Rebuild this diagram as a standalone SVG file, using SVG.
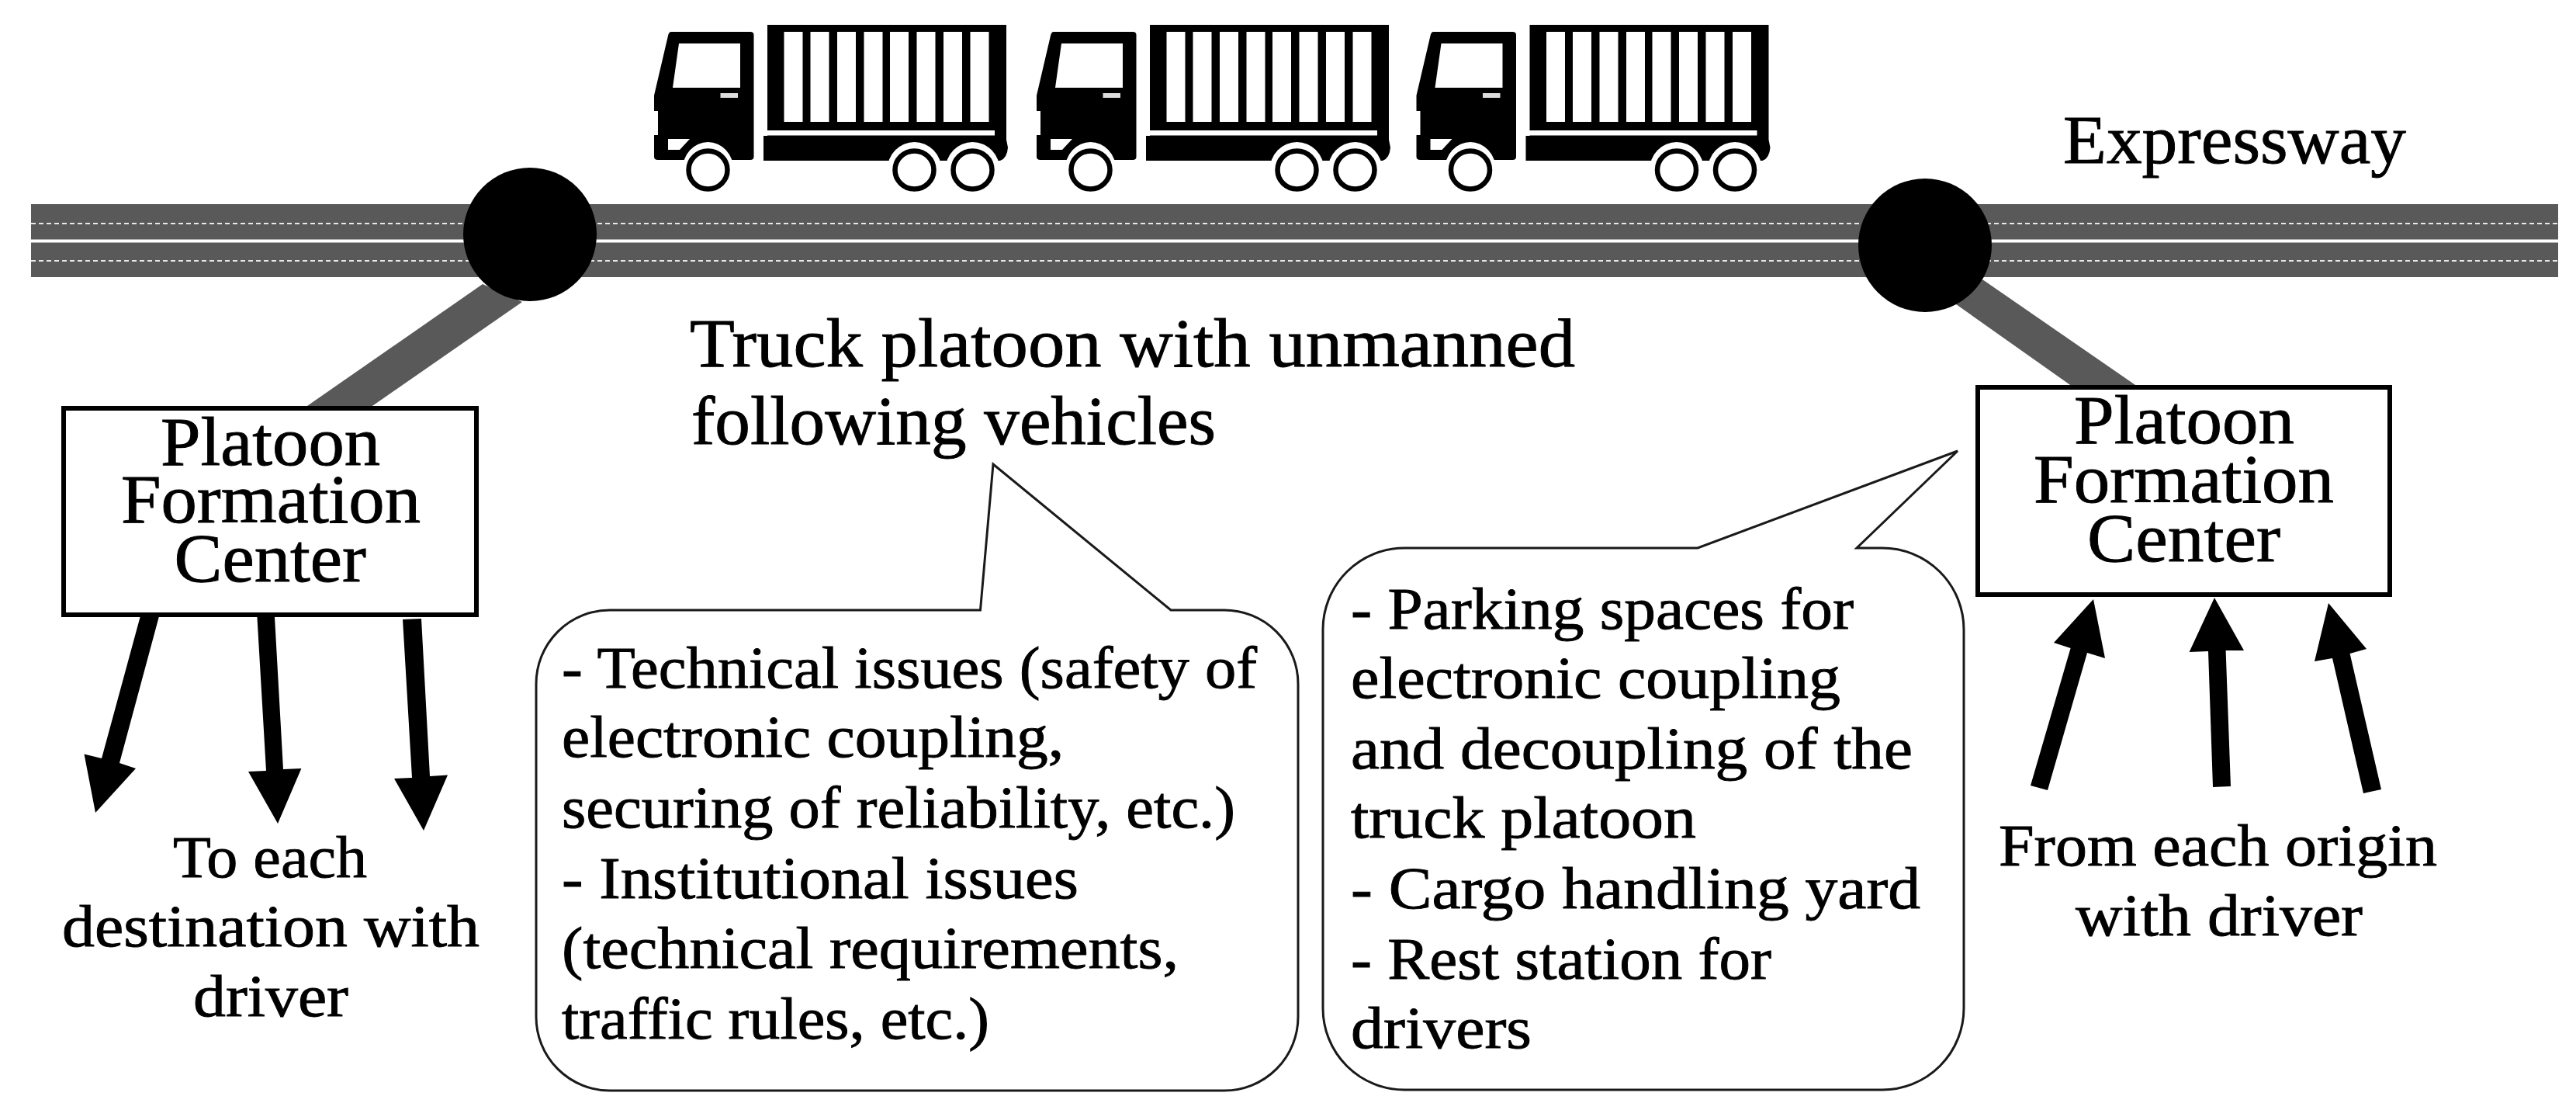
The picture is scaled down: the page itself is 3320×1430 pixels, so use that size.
<svg xmlns="http://www.w3.org/2000/svg" xmlns:xlink="http://www.w3.org/1999/xlink" width="3320" height="1430" viewBox="0 0 3320 1430">
<style>
text{font-family:"Liberation Serif","Times New Roman",serif;fill:#000;stroke:#000;stroke-width:0.9px;}
.b{font-size:76px;}
.l{font-size:88px;}
.box{fill:#fff;stroke:#000;stroke-width:6;}
.road{fill:#595959;}
.dash{stroke:#e8e8e8;stroke-width:2;stroke-dasharray:6 4;fill:none;}
.call{fill:#fff;stroke:#1a1a1a;stroke-width:3;stroke-linejoin:miter;}
.w{fill:#fff;}
.k{fill:#000;}
.ring{fill:#fff;stroke:#000;stroke-width:6.5;}
</style>
<defs>
<g id="truck">
<path class="k" d="M865,41H967Q971.5,41 971.5,45V202Q971.5,206 967,206H848Q843,206 843,202V174H848V143H843V123L861,46Q862,41 865,41Z"/>
<path class="w" d="M875,56H954V113H867Z"/>
<rect x="928.5" y="120" width="22.5" height="6" fill="#ddd"/>
<path class="w" d="M861,179H889L876,193H861Z"/>
<ellipse class="w" cx="912.5" cy="219" rx="33" ry="36"/>
<ellipse class="ring" cx="912.5" cy="219" rx="25" ry="24.5"/>
<path class="k" d="M989,32H1297V180L1299,190Q1298,204 1289,207H984V175H989Z"/>
<rect class="w" x="984" y="168" width="298" height="6.5"/>
<rect class="w" x="1010.5" y="41" width="24" height="116"/>
<rect class="w" x="1044.5" y="41" width="24" height="116"/>
<rect class="w" x="1079" y="41" width="24" height="116"/>
<rect class="w" x="1113.5" y="41" width="24" height="116"/>
<rect class="w" x="1147" y="41" width="24" height="116"/>
<rect class="w" x="1181.5" y="41" width="24" height="116"/>
<rect class="w" x="1216" y="41" width="24" height="116"/>
<rect class="w" x="1250.5" y="41" width="24" height="116"/>
<ellipse class="w" cx="1178.5" cy="219" rx="35" ry="36"/>
<ellipse class="w" cx="1253.5" cy="219" rx="35" ry="36"/>
<ellipse class="ring" cx="1178.5" cy="219" rx="25" ry="24.5"/>
<ellipse class="ring" cx="1253.5" cy="219" rx="25" ry="24.5"/>
</g>
</defs>
<rect width="3320" height="1430" fill="#fff"/>
<g id="expressway">
<rect class="road" x="40" y="263" width="3257" height="94"/>
<rect x="40" y="308.500" width="3257" height="4" fill="#fff"/>
<line class="dash" x1="40" y1="288" x2="3297" y2="288"/>
<line class="dash" x1="40" y1="336" x2="3297" y2="336"/>
<text class="l" x="2659" y="210" textLength="442" lengthAdjust="spacingAndGlyphs">Expressway</text>
</g>
<g id="connectors">
<polygon class="road" points="393,525 622,366 673,389 477,525"/>
<polygon class="road" points="2671,498 2521,392 2555,360 2755,498"/>
<polygon class="k" points="183,786 205,794 154,983 175,990 123,1047 108.500,971.500 131,977"/>
<polygon class="k" points="331,788 353.600,788 365,991 388.400,990 358,1061 320,994 343,993"/>
<polygon class="k" points="519,798 543,797 554,1000 577,998.500 546,1070 508,1003 531,1002"/>
<polygon class="k" points="2617,1012 2639,1018 2690,841 2713,848 2698,772 2647,828 2668.600,835"/>
<polygon class="k" points="2852,1014 2875,1013 2868.600,838 2892,838 2854,770 2821.600,840 2846,839"/>
<polygon class="k" points="3046,1022 3069,1017 3028.600,842 3050,836 3001,777 2983,852 3006,848"/>
</g>
<g id="junction-left"><circle class="k" cx="683" cy="302" r="86"/></g>
<g id="junction-right"><circle class="k" cx="2481" cy="316" r="86"/></g>
<g id="truck-1"><use xlink:href="#truck" href="#truck"/></g>
<g id="truck-2"><use xlink:href="#truck" href="#truck" x="493"/></g>
<g id="truck-3"><use xlink:href="#truck" href="#truck" x="982.500"/></g>
<g id="center-left">
<rect class="box" x="82" y="526" width="532" height="266"/>
<text class="l" x="207" y="599" textLength="283" lengthAdjust="spacingAndGlyphs">Platoon</text>
<text class="l" x="156" y="673" textLength="386" lengthAdjust="spacingAndGlyphs">Formation</text>
<text class="l" x="224.500" y="749" textLength="247.500" lengthAdjust="spacingAndGlyphs">Center</text>
</g>
<g id="center-right">
<rect class="box" x="2549" y="499" width="531" height="267"/>
<text class="l" x="2673" y="570.500" textLength="284" lengthAdjust="spacingAndGlyphs">Platoon</text>
<text class="l" x="2621" y="647" textLength="387" lengthAdjust="spacingAndGlyphs">Formation</text>
<text class="l" x="2690" y="723" textLength="249" lengthAdjust="spacingAndGlyphs">Center</text>
</g>
<g id="label-platoon">
<text class="l" x="889" y="472" textLength="1141" lengthAdjust="spacingAndGlyphs">Truck platoon with unmanned</text>
<text class="l" x="891" y="572" textLength="676" lengthAdjust="spacingAndGlyphs">following vehicles</text>
</g>
<g id="label-destination">
<text class="b" x="223" y="1130" textLength="250" lengthAdjust="spacingAndGlyphs">To each</text>
<text class="b" x="80" y="1219" textLength="538" lengthAdjust="spacingAndGlyphs">destination with</text>
<text class="b" x="249" y="1309" textLength="200" lengthAdjust="spacingAndGlyphs">driver</text>
</g>
<g id="label-origin">
<text class="b" x="2576" y="1115" textLength="565" lengthAdjust="spacingAndGlyphs">From each origin</text>
<text class="b" x="2675" y="1205" textLength="370" lengthAdjust="spacingAndGlyphs">with driver</text>
</g>
<g id="callout-issues">
<path class="call" d="M786,786H1263.500L1280,598L1509,786H1578A95,95 0 0 1 1673,881V1310A95,95 0 0 1 1578,1405H786A95,95 0 0 1 691,1310V881A95,95 0 0 1 786,786Z"/>
<text class="b" x="724" y="886" textLength="896" lengthAdjust="spacingAndGlyphs">- Technical issues (safety of</text>
<text class="b" x="724" y="975" textLength="647" lengthAdjust="spacingAndGlyphs">electronic coupling,</text>
<text class="b" x="724" y="1066" textLength="868" lengthAdjust="spacingAndGlyphs">securing of reliability, etc.)</text>
<text class="b" x="724" y="1157" textLength="666" lengthAdjust="spacingAndGlyphs">- Institutional issues</text>
<text class="b" x="724" y="1247" textLength="795" lengthAdjust="spacingAndGlyphs">(technical requirements,</text>
<text class="b" x="724" y="1338" textLength="551" lengthAdjust="spacingAndGlyphs">traffic rules, etc.)</text>
</g>
<g id="callout-facilities">
<path class="call" d="M1810,706H2188L2523,581L2393,706H2426A105,105 0 0 1 2531,811V1299A105,105 0 0 1 2426,1404H1810A105,105 0 0 1 1705,1299V811A105,105 0 0 1 1810,706Z"/>
<text class="b" x="1741" y="810" textLength="648" lengthAdjust="spacingAndGlyphs">- Parking spaces for</text>
<text class="b" x="1741" y="899" textLength="631" lengthAdjust="spacingAndGlyphs">electronic coupling</text>
<text class="b" x="1741" y="989.500" textLength="724" lengthAdjust="spacingAndGlyphs">and decoupling of the</text>
<text class="b" x="1741" y="1079" textLength="445" lengthAdjust="spacingAndGlyphs">truck platoon</text>
<text class="b" x="1741" y="1170" textLength="734" lengthAdjust="spacingAndGlyphs">- Cargo handling yard</text>
<text class="b" x="1741" y="1261" textLength="542" lengthAdjust="spacingAndGlyphs">- Rest station for</text>
<text class="b" x="1741" y="1350" textLength="233" lengthAdjust="spacingAndGlyphs">drivers</text>
</g>
</svg>
